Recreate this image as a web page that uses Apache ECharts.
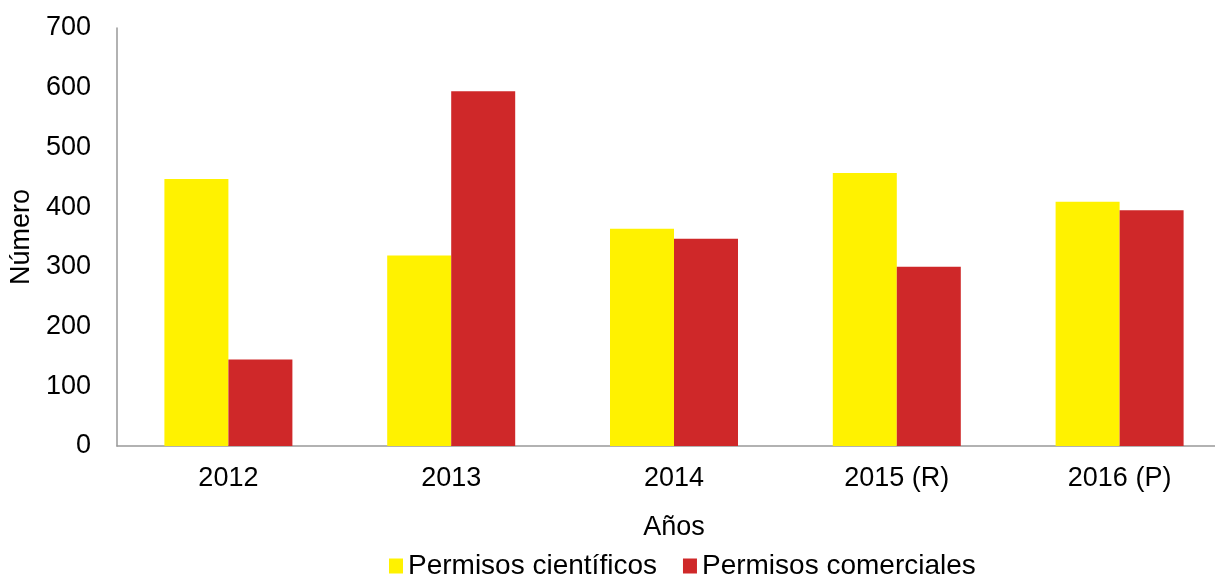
<!DOCTYPE html>
<html>
<head>
<meta charset="utf-8">
<script src="https://cdn.jsdelivr.net/npm/echarts@6/dist/echarts.min.js"></script>
<style>
  html, body { margin: 0; padding: 0; background: #fff; }
  #container { width: 1215px; height: 576px; }
</style>
</head>
<body>
<div id="container"></div>
<script>
// Datos
const anios = ['2012', '2013', '2014', '2015 (R)', '2016 (P)'];
const cientificos = [447, 319, 364, 457, 409];
const comerciales = [145, 594, 347, 300, 395];
const ejeY = { min: 0, max: 700, interval: 100 };

const chart = echarts.init(document.getElementById('container'), null, { renderer: 'canvas' });
const fuente = '"Liberation Sans", Arial, sans-serif';

chart.setOption({
    animation: false,
    textStyle: { fontFamily: fuente },
    grid: { left: 117, right: -16, top: 28, bottom: 130, containLabel: false, outerBoundsMode: 'none' },
    legend: {
        left: 384,
        top: 547,
        itemWidth: 14,
        itemHeight: 15,
        itemGap: 26,
        icon: 'rect',
        textStyle: { fontSize: 28, color: '#000', fontFamily: fuente },
        data: ['Permisos científicos', 'Permisos comerciales']
    },
    xAxis: {
        type: 'category',
        data: anios,
        name: 'Años',
        nameLocation: 'middle',
        nameGap: 68,
        nameTextStyle: { fontSize: 27, color: '#000', fontFamily: fuente },
        axisLine: { lineStyle: { color: '#999', width: 1.5 } },
        axisTick: { show: false },
        axisLabel: { fontSize: 27, color: '#000', margin: 19, fontFamily: fuente }
    },
    yAxis: {
        type: 'value',
        min: ejeY.min,
        max: ejeY.max,
        interval: ejeY.interval,
        name: 'Número',
        nameLocation: 'middle',
        nameGap: 76,
        nameTextStyle: { fontSize: 27, color: '#000', fontFamily: fuente },
        axisLine: { show: true, lineStyle: { color: '#999', width: 1.5 } },
        axisTick: { show: false },
        splitLine: { show: false },
        axisLabel: { fontSize: 27, color: '#000', margin: 26, fontFamily: fuente }
    },
    series: [
        {
            name: 'Permisos científicos',
            type: 'bar',
            data: cientificos,
            barWidth: 64,
            barGap: '0%',
            itemStyle: { color: '#FFF200' }
        },
        {
            name: 'Permisos comerciales',
            type: 'bar',
            data: comerciales,
            barWidth: 64,
            barGap: '0%',
            itemStyle: { color: '#CF2829' }
        }
    ]
});

window.addEventListener('resize', () => chart.resize());
</script>
</body>
</html>
